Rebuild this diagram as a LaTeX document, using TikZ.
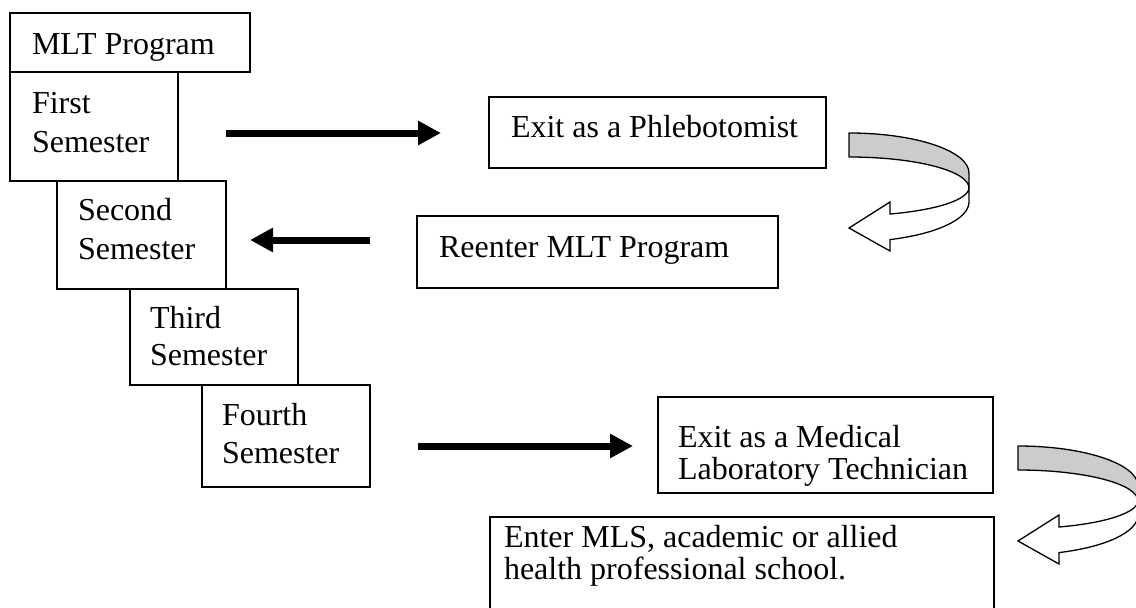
\documentclass[tikz,border=0pt]{standalone}
\usepackage{fontspec}
\setmainfont{Liberation Serif}
\usetikzlibrary{arrows.meta}
\definecolor{bandgray}{RGB}{204,204,204}
\begin{document}
\begin{tikzpicture}[x=1pt,y=-1pt,
  box/.style={draw, line width=1.3pt, rectangle, inner sep=0pt, outer sep=0pt, anchor=north west},
  txt/.style={inner sep=0pt, outer sep=0pt, anchor=base west, align=left},
  wide/.style={font=\fontsize{32}{39}\selectfont},
  tight/.style={font=\fontsize{32}{32}\selectfont},
  bigarrow/.style={line width=7pt, -{Triangle[length=23pt,width=23pt]}},
  uturn/.pic={
    \draw[line width=1.3pt, fill=bandgray, line join=round]
      (0,-40) arc[start angle=-90, end angle=0, x radius=120, y radius=40]
      -- (120,15) arc[start angle=0, end angle=-90, x radius=120, y radius=31]
      -- cycle;
    \draw[line width=1.3pt, fill=white, line join=miter]
      (120,15) -- (120,29)
      arc[start angle=0, end angle=70, x radius=120, y radius=40]
      -- (41,78) -- (0,55) -- (41,29) -- (41,41)
      arc[start angle=70, end angle=0, x radius=120, y radius=28]
      -- cycle;
  }
]
\useasboundingbox (0,0) rectangle (1136,608);

% boxes
\node[box, minimum width=240pt, minimum height=59pt]  (mlt)     at (10,13)  {};
\node[box, minimum width=168pt, minimum height=109pt] (first)   at (10,72)  {};
\node[box, minimum width=169pt, minimum height=108pt] (second)  at (57,181) {};
\node[box, minimum width=168pt, minimum height=96pt]  (third)   at (130,289) {};
\node[box, minimum width=168pt, minimum height=102pt] (fourth)  at (202,385) {};
\node[box, minimum width=337pt, minimum height=71pt]  (phleb)   at (489,97) {};
\node[box, minimum width=361pt, minimum height=72pt]  (reenter) at (417,216) {};
\node[box, minimum width=335pt, minimum height=96pt]  (medical) at (658,397) {};
\node[box, minimum width=504pt, minimum height=130pt] (enter)   at (490,517) {};

% texts (anchor = baseline of the last line)
\node[txt, wide]  (mltT)     at (32,54)   {MLT Program};
\node[txt, wide]  (firstT)   at (32,152)  {First\\Semester};
\node[txt, wide]  (secondT)  at (78,259)  {Second\\Semester};
\node[txt, font=\fontsize{32}{37}\selectfont] (thirdT) at (150,365) {Third\\Semester};
\node[txt, font=\fontsize{32}{38}\selectfont] (fourthT) at (222,463) {Fourth\\Semester};
\node[txt, wide]  (phlebT)   at (511,137) {Exit as a Phlebotomist};
\node[txt, wide]  (reenterT) at (439,257) {Reenter MLT Program};
\node[txt, tight] (medicalT) at (678,479) {Exit as a Medical\\Laboratory Technician};
\node[txt, tight] (enterT)   at (504,579) {Enter MLS, academic or allied\\health professional school.};

% straight arrows
\coordinate (a1s) at (226,133); \coordinate (a1e) at (441,133);
\coordinate (a2s) at (370,240); \coordinate (a2e) at (250,240);
\coordinate (a3s) at (418,446); \coordinate (a3e) at (633,446);
\draw[bigarrow] (a1s) -- (a1e);
\draw[bigarrow] (a2s) -- (a2e);
\draw[bigarrow] (a3s) -- (a3e);

% curved u-turn arrows
\pic (u1) at (849,173) {uturn};
\pic (u2) at (1018,486) {uturn};
\end{tikzpicture}
\end{document}
